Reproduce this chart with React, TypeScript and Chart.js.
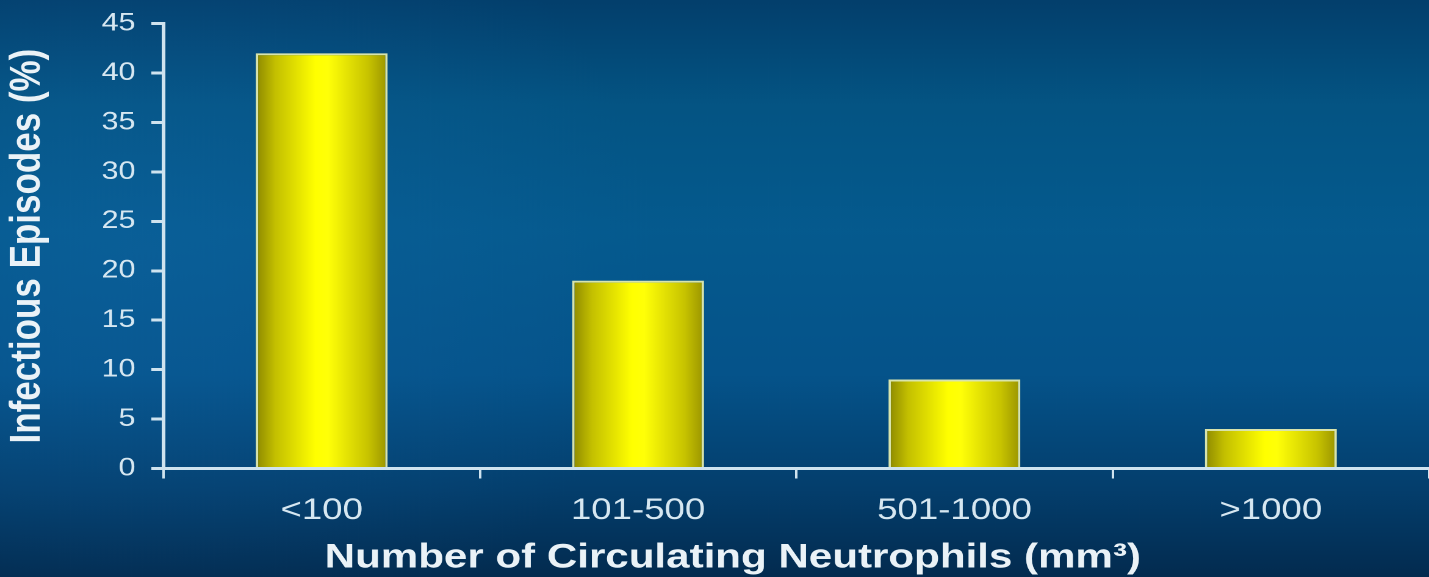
import { useEffect, useRef } from 'react';
import { Chart, registerables } from 'chart.js';

Chart.register(...registerables);

const categories = ['<100', '101-500', '501-1000', '>1000'];
const episodes = [42, 19, 9, 4];
const yMin = 0;
const yMax = 45;
const yStep = 5;
const yTitle = 'Infectious Episodes (%)';
const xTitle = 'Number of Circulating Neutrophils (mm³)';

const FONT = '"Liberation Sans", Arial, Helvetica, sans-serif';
const AXIS = '#cfe3ef';
const TICK = '#d6e7f1';
const TITLE = '#eaf2f7';
const LOGICAL_W = 1171;
const VIEW_W = 1429;
const VIEW_H = 577;
const BAR_FRAC = 0.417;

const bgPlugin = {
  id: 'bgGradient',
  beforeDraw(chart: any) {
    const { ctx, width, height } = chart;
    ctx.save();
    const g = ctx.createLinearGradient(0, 0, 0, height);
    g.addColorStop(0, '#033f6c');
    g.addColorStop(0.18, '#045483');
    g.addColorStop(0.4, '#055a8e');
    g.addColorStop(0.65, '#05538a');
    g.addColorStop(0.85, '#043e6c');
    g.addColorStop(1, '#032b4f');
    ctx.fillStyle = g;
    ctx.fillRect(0, 0, width, height);
    const r = ctx.createRadialGradient(120, 260, 10, 120, 260, 420);
    r.addColorStop(0, 'rgba(25,110,180,0.25)');
    r.addColorStop(1, 'rgba(25,110,180,0)');
    ctx.fillStyle = r;
    ctx.fillRect(0, 0, width, height);
    ctx.restore();
  },
};

export default function App() {
  const ref = useRef<HTMLCanvasElement>(null);

  useEffect(() => {
    document.body.style.margin = '0';
    const canvas = ref.current!;
    const chart = new Chart(canvas, {
      type: 'bar',
      data: {
        labels: categories,
        datasets: [
          {
            data: episodes,
            barPercentage: BAR_FRAC,
            categoryPercentage: 1,
            borderColor: 'rgba(228,236,175,0.95)',
            borderWidth: 2,
            backgroundColor: (c: any) => {
              const ch = c.chart;
              const xs = ch.scales && ch.scales.x;
              if (!xs || c.dataIndex === undefined || !ch.chartArea) return '#f0f000';
              const cx = xs.getPixelForValue(c.dataIndex);
              const w = (xs.width / categories.length) * BAR_FRAC;
              const g = ch.ctx.createLinearGradient(cx - w / 2, 0, cx + w / 2, 0);
              g.addColorStop(0, '#8c8800');
              g.addColorStop(0.15, '#c4c000');
              g.addColorStop(0.45, '#ffff00');
              g.addColorStop(0.55, '#ffff08');
              g.addColorStop(0.85, '#c8c400');
              g.addColorStop(1, '#9a9400');
              return g;
            },
          },
        ],
      },
      options: {
        animation: false,
        responsive: false,
        devicePixelRatio: 2,
        layout: { padding: { top: 0, left: 30, right: 0, bottom: 0 } },
        plugins: {
          legend: { display: false },
          tooltip: { enabled: false },
          title: {
            display: true,
            position: 'bottom',
            text: xTitle,
            color: TITLE,
            fullSize: true,
            font: { family: FONT, size: 34.5, weight: 'bold', lineHeight: 1 },
            padding: { top: 0, bottom: 2 },
          },
        },
        scales: {
          x: {
            type: 'category',
            offset: true,
            grid: {
              offset: true,
              drawOnChartArea: false,
              drawTicks: true,
              tickLength: 10,
              color: AXIS,
              lineWidth: 2,
            },
            border: { display: true, color: AXIS, width: 3 },
            ticks: {
              color: TICK,
              font: { family: FONT, size: 30 },
              padding: 14,
              maxRotation: 0,
              autoSkip: false,
            },
            afterFit: (s: any) => {
              s.height = 72;
            },
          },
          y: {
            min: yMin,
            max: yMax,
            ticks: {
              stepSize: yStep,
              color: TICK,
              font: { family: FONT, size: 25, lineHeight: 0.85 },
              padding: 13,
            },
            grid: {
              drawOnChartArea: false,
              tickLength: 10,
              color: AXIS,
              lineWidth: 3,
            },
            border: { display: true, color: AXIS, width: 3 },
            title: {
              display: true,
              text: yTitle,
              color: TITLE,
              font: { family: FONT, size: 35, weight: 'bold' },
              padding: { top: -28, bottom: 0 },
            },
            afterFit: (s: any) => {
              s.width = 104;
            },
          },
        },
      },
      plugins: [bgPlugin],
    } as any);
    return () => chart.destroy();
  }, []);

  return (
    <div style={{ width: VIEW_W, height: VIEW_H, overflow: 'hidden' }}>
      <canvas
        ref={ref}
        width={LOGICAL_W}
        height={VIEW_H}
        style={{ width: VIEW_W + 'px', height: VIEW_H + 'px', display: 'block' }}
      />
    </div>
  );
}
